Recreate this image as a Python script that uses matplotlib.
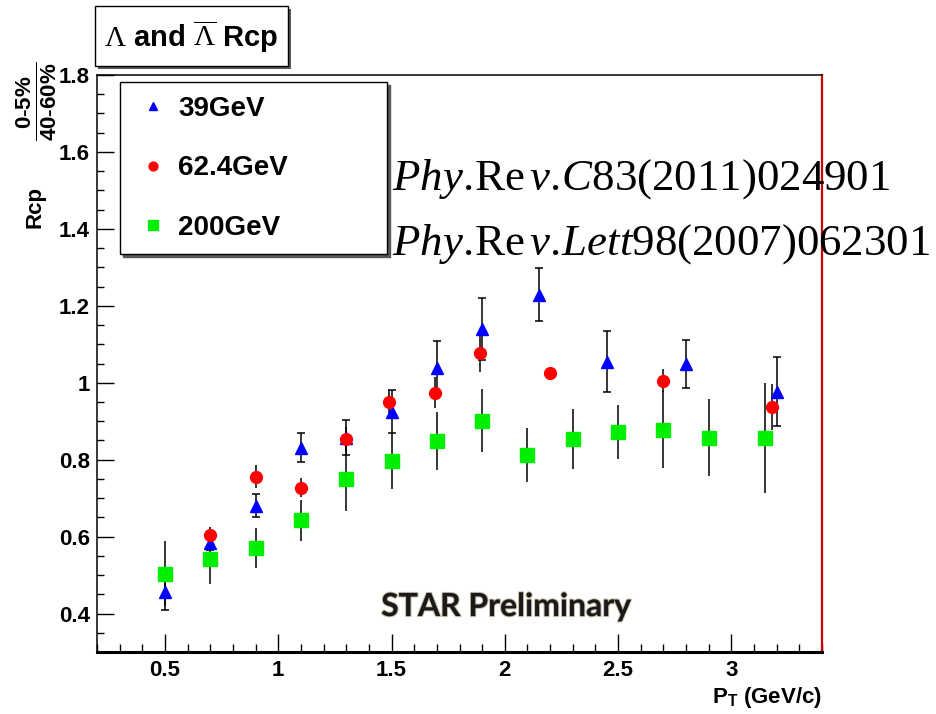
import numpy as np
import matplotlib
matplotlib.use("Agg")
import matplotlib.pyplot as plt
from matplotlib.patches import Rectangle
from matplotlib.ticker import MultipleLocator
import matplotlib.patheffects as pe

plt.rcParams['font.family'] = ['Liberation Sans', 'DejaVu Sans']
plt.rcParams['mathtext.fontset'] = 'custom'
plt.rcParams['mathtext.rm'] = 'Liberation Serif'
plt.rcParams['mathtext.it'] = 'Liberation Serif:italic'
plt.rcParams['mathtext.bf'] = 'Liberation Sans:bold'

# --- data ---
pt_39 = [0.5, 0.7, 0.9, 1.1, 1.3, 1.5, 1.7, 1.9, 2.15, 2.45, 2.8, 3.2]
rcp_39 = [0.457, 0.584, 0.68, 0.831, 0.857, 0.925, 1.039, 1.14, 1.229, 1.055, 1.049, 0.977]
err_39 = [0.047, 0.02, 0.03, 0.038, 0.045, 0.055, 0.07, 0.08, 0.068, 0.08, 0.063, 0.09]

pt_62 = [0.7, 0.9, 1.1, 1.3, 1.49, 1.69, 1.89, 2.2, 2.7, 3.18]
rcp_62 = [0.605, 0.756, 0.727, 0.855, 0.951, 0.974, 1.078, 1.026, 1.005, 0.938]
err_62 = [0.02, 0.03, 0.025, 0.03, 0.03, 0.04, 0.05, 0.01, 0.03, 0.06]

pt_200 = [0.5, 0.7, 0.9, 1.1, 1.3, 1.5, 1.7, 1.9, 2.1, 2.3, 2.5, 2.7, 2.9, 3.15]
rcp_200 = [0.504, 0.543, 0.571, 0.642, 0.751, 0.797, 0.849, 0.901, 0.813, 0.855, 0.873, 0.878, 0.857, 0.857]
err_200 = [0.085, 0.065, 0.052, 0.053, 0.085, 0.072, 0.076, 0.082, 0.07, 0.078, 0.07, 0.1, 0.1, 0.143]

W, H = 936, 714
fig = plt.figure(figsize=(W / 100, H / 100), dpi=100)
ax = fig.add_axes([97 / W, 1 - 652 / H, (822 - 97) / W, (652 - 75) / H])

# error bars
ax.errorbar(pt_200, rcp_200, yerr=err_200, fmt='none', ecolor='black', elinewidth=1.1, capsize=0, zorder=2)
ax.errorbar(pt_39, rcp_39, yerr=err_39, fmt='none', ecolor='black', elinewidth=1.1, capsize=3, capthick=1.1, zorder=2)
ax.errorbar(pt_62, rcp_62, yerr=err_62, fmt='none', ecolor='black', elinewidth=1.1, capsize=0, zorder=2)

# markers
h39, = ax.plot(pt_39, rcp_39, '^', color='#0000ff', ms=8, mec='#0000ff', ls='none', label='39GeV', zorder=3)
h62, = ax.plot(pt_62, rcp_62, 'o', color='#ff0000', ms=8.5, mec='#ff0000', ls='none', label='62.4GeV', zorder=3)
h200, = ax.plot(pt_200, rcp_200, 's', color='#00ee00', ms=9.5, mec='#00ee00', ls='none', label='200GeV', zorder=3)

ax.set_xlim(0.2, 3.4)
ax.set_ylim(0.3, 1.8)
ax.xaxis.set_minor_locator(MultipleLocator(0.1))
ax.yaxis.set_minor_locator(MultipleLocator(0.05))
ax.set_yticks([0.4, 0.6, 0.8, 1.0, 1.2, 1.4, 1.6, 1.8])
ax.set_yticklabels(['0.4', '0.6', '0.8', '1', '1.2', '1.4', '1.6', '1.8'])
ax.set_xticks([0.5, 1, 1.5, 2, 2.5, 3])
ax.set_xticklabels(['0.5', '1', '1.5', '2', '2.5', '3'])

ax.tick_params(axis='both', which='both', direction='in', top=False, right=False)
ax.tick_params(axis='y', which='major', length=12, width=1, pad=5, labelsize=16)
ax.tick_params(axis='y', which='minor', length=5, width=1)
ax.tick_params(axis='x', which='major', length=13, width=1, pad=6, labelsize=16)
ax.tick_params(axis='x', which='minor', length=6, width=1)
for lbl in ax.get_xticklabels() + ax.get_yticklabels():
    lbl.set_fontweight('bold')

ax.spines['bottom'].set_linewidth(2.2)
ax.spines['left'].set_linewidth(1.1)
ax.spines['top'].set_linewidth(1.1)
ax.spines['right'].set_color('#cc0000')
ax.spines['right'].set_linewidth(1.6)

leg = ax.legend(handles=[h39, h62, h200], loc='upper left', mode='expand',
                bbox_to_anchor=(120 / W, 1 - 253 / H, 267 / W, 171 / H), bbox_transform=fig.transFigure,
                prop={'weight': 'bold', 'size': 20}, frameon=True, fancybox=False,
                shadow={'color': '0.35', 'alpha': 1.0}, edgecolor='black',
                borderpad=0.5, labelspacing=1.2, handletextpad=0.2,
                handlelength=1.4, borderaxespad=0, markerscale=0.75)
leg.get_frame().set_linewidth(1.0)
leg.get_frame().set_alpha(1.0)
leg.set_zorder(5)

# axis labels
fig.text(822 / W, 1 - 698 / H, r'P$_{\mathbf{T}}$ (GeV/c)', ha='right', va='center',
         fontsize=16, fontweight='bold')
fig.text(35 / W, 1 - 207 / H, 'Rcp', rotation=90, ha='center', va='center',
         fontsize=16, fontweight='bold')
fig.text(37 / W, 1 - 101 / H,
         r'$\frac{\mathbf{0\text{-}5\%}}{\mathbf{40\text{-}60\%}}$',
         rotation=90, ha='center', va='center', fontsize=23)

# title box
fig.patches.append(Rectangle((98 / W, 1 - 69 / H), 193 / W, 60 / H, transform=fig.transFigure,
                             facecolor='0.35', edgecolor='none', zorder=1))
fig.patches.append(Rectangle((95 / W, 1 - 66 / H), 193 / W, 60 / H, transform=fig.transFigure,
                             facecolor='white', edgecolor='black', lw=1.0, zorder=2))
fig.text(191 / W, 1 - 37 / H, r'$\Lambda$ and $\overline{\Lambda}$ Rcp', ha='center', va='center',
         fontsize=21, fontweight='bold', zorder=3)

# references
fig.text(392 / W, 1 - 190 / H, r'$Phy.\!\mathrm{Re}\,v.\!C83(2011)024901$', ha='left', va='baseline',
         fontsize=32.3, zorder=6)
fig.text(392 / W, 1 - 255 / H, r'$Phy.\!\mathrm{Re}\,v.\!Lett98(2007)062301$', ha='left', va='baseline',
         fontsize=32.3, zorder=6)

# preliminary label
ax.text(0.5 + (506 - 164) / 227.0, 1.8 - (607 - 75) / 385.0, 'STAR Preliminary',
        ha='center', va='center', fontsize=23, fontweight='bold', family='Lato', color='#1a1a1a',
        path_effects=[pe.withStroke(linewidth=1.5, foreground='#8a7a50', alpha=0.5)])

fig.savefig('out.png', dpi=100)
